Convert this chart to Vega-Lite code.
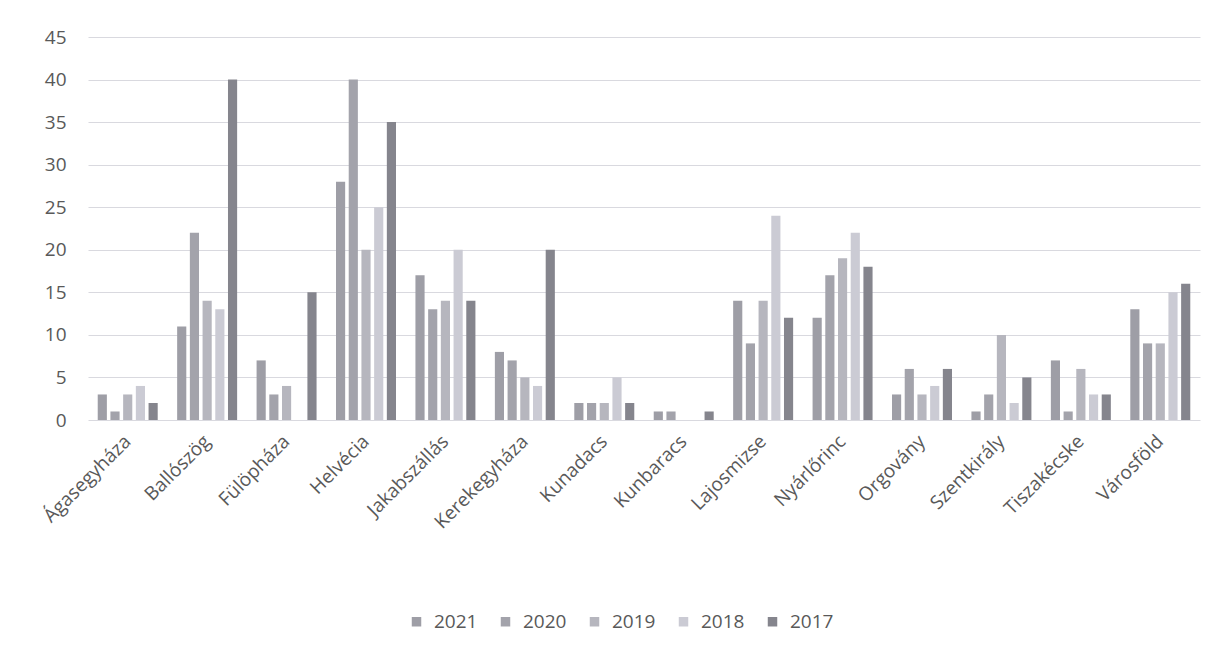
{
  "$schema": "https://vega.github.io/schema/vega-lite/v6.json",
  "width": 1112,
  "height": 383,
  "autosize": "none",
  "padding": {"left": 88, "top": 37, "right": 8, "bottom": 232},
  "background": "white",
  "config": {"view": {"stroke": null}, "font": "Open Sans"},
  "data": {"values": [
    {"place": "Ágasegyháza", "year": "2021", "value": 3},
    {"place": "Ágasegyháza", "year": "2020", "value": 1},
    {"place": "Ágasegyháza", "year": "2019", "value": 3},
    {"place": "Ágasegyháza", "year": "2018", "value": 4},
    {"place": "Ágasegyháza", "year": "2017", "value": 2},
    {"place": "Ballószög", "year": "2021", "value": 11},
    {"place": "Ballószög", "year": "2020", "value": 22},
    {"place": "Ballószög", "year": "2019", "value": 14},
    {"place": "Ballószög", "year": "2018", "value": 13},
    {"place": "Ballószög", "year": "2017", "value": 40},
    {"place": "Fülöpháza", "year": "2021", "value": 7},
    {"place": "Fülöpháza", "year": "2020", "value": 3},
    {"place": "Fülöpháza", "year": "2019", "value": 4},
    {"place": "Fülöpháza", "year": "2018", "value": 0},
    {"place": "Fülöpháza", "year": "2017", "value": 15},
    {"place": "Helvécia", "year": "2021", "value": 28},
    {"place": "Helvécia", "year": "2020", "value": 40},
    {"place": "Helvécia", "year": "2019", "value": 20},
    {"place": "Helvécia", "year": "2018", "value": 25},
    {"place": "Helvécia", "year": "2017", "value": 35},
    {"place": "Jakabszállás", "year": "2021", "value": 17},
    {"place": "Jakabszállás", "year": "2020", "value": 13},
    {"place": "Jakabszállás", "year": "2019", "value": 14},
    {"place": "Jakabszállás", "year": "2018", "value": 20},
    {"place": "Jakabszállás", "year": "2017", "value": 14},
    {"place": "Kerekegyháza", "year": "2021", "value": 8},
    {"place": "Kerekegyháza", "year": "2020", "value": 7},
    {"place": "Kerekegyháza", "year": "2019", "value": 5},
    {"place": "Kerekegyháza", "year": "2018", "value": 4},
    {"place": "Kerekegyháza", "year": "2017", "value": 20},
    {"place": "Kunadacs", "year": "2021", "value": 2},
    {"place": "Kunadacs", "year": "2020", "value": 2},
    {"place": "Kunadacs", "year": "2019", "value": 2},
    {"place": "Kunadacs", "year": "2018", "value": 5},
    {"place": "Kunadacs", "year": "2017", "value": 2},
    {"place": "Kunbaracs", "year": "2021", "value": 1},
    {"place": "Kunbaracs", "year": "2020", "value": 1},
    {"place": "Kunbaracs", "year": "2019", "value": 0},
    {"place": "Kunbaracs", "year": "2018", "value": 0},
    {"place": "Kunbaracs", "year": "2017", "value": 1},
    {"place": "Lajosmizse", "year": "2021", "value": 14},
    {"place": "Lajosmizse", "year": "2020", "value": 9},
    {"place": "Lajosmizse", "year": "2019", "value": 14},
    {"place": "Lajosmizse", "year": "2018", "value": 24},
    {"place": "Lajosmizse", "year": "2017", "value": 12},
    {"place": "Nyárlőrinc", "year": "2021", "value": 12},
    {"place": "Nyárlőrinc", "year": "2020", "value": 17},
    {"place": "Nyárlőrinc", "year": "2019", "value": 19},
    {"place": "Nyárlőrinc", "year": "2018", "value": 22},
    {"place": "Nyárlőrinc", "year": "2017", "value": 18},
    {"place": "Orgovány", "year": "2021", "value": 3},
    {"place": "Orgovány", "year": "2020", "value": 6},
    {"place": "Orgovány", "year": "2019", "value": 3},
    {"place": "Orgovány", "year": "2018", "value": 4},
    {"place": "Orgovány", "year": "2017", "value": 6},
    {"place": "Szentkirály", "year": "2021", "value": 1},
    {"place": "Szentkirály", "year": "2020", "value": 3},
    {"place": "Szentkirály", "year": "2019", "value": 10},
    {"place": "Szentkirály", "year": "2018", "value": 2},
    {"place": "Szentkirály", "year": "2017", "value": 5},
    {"place": "Tiszakécske", "year": "2021", "value": 7},
    {"place": "Tiszakécske", "year": "2020", "value": 1},
    {"place": "Tiszakécske", "year": "2019", "value": 6},
    {"place": "Tiszakécske", "year": "2018", "value": 3},
    {"place": "Tiszakécske", "year": "2017", "value": 3},
    {"place": "Városföld", "year": "2021", "value": 13},
    {"place": "Városföld", "year": "2020", "value": 9},
    {"place": "Városföld", "year": "2019", "value": 9},
    {"place": "Városföld", "year": "2018", "value": 15},
    {"place": "Városföld", "year": "2017", "value": 16}
  ]},
  "mark": {"type": "bar"},
  "encoding": {
    "x": {
      "field": "place", "type": "nominal", "sort": null,
      "scale": {"paddingInner": 0.2, "paddingOuter": 0.1},
      "axis": {"title": null, "labelAngle": -45, "labelAlign": "right", "labelBaseline": "middle",
               "domain": false, "ticks": false, "labelFontSize": 19, "labelColor": "#595959",
               "labelPadding": 18, "labelLimit": 300}
    },
    "xOffset": {
      "field": "year", "type": "nominal", "sort": ["2021", "2020", "2019", "2018", "2017"],
      "scale": {"paddingInner": 0.28, "paddingOuter": 0.14}
    },
    "y": {
      "field": "value", "type": "quantitative",
      "scale": {"domain": [0, 45]},
      "axis": {"title": null, "values": [0, 5, 10, 15, 20, 25, 30, 35, 40, 45], "domain": false, "ticks": false,
               "gridColor": "#d9d9df", "labelFontSize": 19, "labelColor": "#595959", "labelPadding": 22}
    },
    "color": {
      "field": "year", "type": "nominal", "sort": ["2021", "2020", "2019", "2018", "2017"],
      "scale": {"domain": ["2021", "2020", "2019", "2018", "2017"],
                "range": ["#9e9ea6", "#a3a3ab", "#b6b6be", "#cbcbd4", "#85858d"]},
      "legend": {"title": null, "orient": "none", "legendX": 319, "legendY": 575, "direction": "horizontal",
                 "symbolType": "square", "symbolSize": 90, "symbolStrokeWidth": 0, "labelFontSize": 19,
                 "labelColor": "#595959", "columnPadding": 18, "labelOffset": 8}
    }
  }
}
